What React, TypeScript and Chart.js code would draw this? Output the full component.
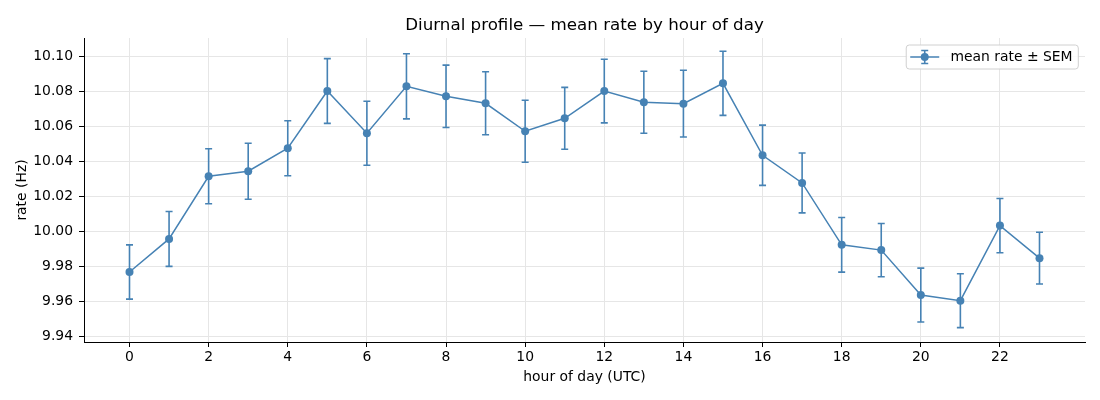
import React, { useEffect, useRef } from "react";
import { Chart, registerables } from "chart.js";
Chart.register(...registerables);

/** ---------- Data ---------- */
const HOURS = [0, 1, 2, 3, 4, 5, 6, 7, 8, 9, 10, 11, 12, 13, 14, 15, 16, 17, 18, 19, 20, 21, 22, 23];
const MEAN_RATE = [
  9.9766, 9.9955, 10.0313, 10.0342, 10.0473, 10.08, 10.0559, 10.0827, 10.077, 10.073, 10.057, 10.0644,
  10.08, 10.0736, 10.0728, 10.0844, 10.0433, 10.0275, 9.9921, 9.9891, 9.9634, 9.9602, 10.0031, 9.9845,
];
const SEM = [
  0.0155, 0.0157, 0.0157, 0.016, 0.0157, 0.0185, 0.0183, 0.0186, 0.0178, 0.018, 0.0177, 0.0177,
  0.0182, 0.0177, 0.0191, 0.0183, 0.0172, 0.0171, 0.0156, 0.0152, 0.0154, 0.0154, 0.0155, 0.0148,
];
const X_TICKS = [0, 2, 4, 6, 8, 10, 12, 14, 16, 18, 20, 22];
const Y_TICKS = [9.94, 9.96, 9.98, 10.0, 10.02, 10.04, 10.06, 10.08, 10.1];
const X_MIN = -1.15;
const X_MAX = 24.15;
const Y_MIN = 9.9366;
const Y_MAX = 10.1103;

const TITLE = "Diurnal profile — mean rate by hour of day";
const X_LABEL = "hour of day (UTC)";
const Y_LABEL = "rate (Hz)";
const SERIES_LABEL = "mean rate ± SEM";

/** ---------- Styles ---------- */
const FONT = "'DejaVu Sans', sans-serif";
const FONT_SIZE = 13.9;
const LINE_COLOR = "#4682b4";
const GRID_COLOR = "#e6e6e6";
const CAP = 3.5;

// error bars go under the line + markers
const errorBarPlugin = {
  id: "errorBars",
  beforeDatasetsDraw(chart: any) {
    const { ctx } = chart;
    const x = chart.scales.x;
    const y = chart.scales.y;
    ctx.save();
    ctx.strokeStyle = LINE_COLOR;
    ctx.lineWidth = 1.6;
    HOURS.forEach((h, i) => {
      const px = x.getPixelForValue(h);
      const top = y.getPixelForValue(MEAN_RATE[i] + SEM[i]);
      const bot = y.getPixelForValue(MEAN_RATE[i] - SEM[i]);
      ctx.beginPath();
      ctx.moveTo(px, top);
      ctx.lineTo(px, bot);
      ctx.moveTo(px - CAP, top);
      ctx.lineTo(px + CAP, top);
      ctx.moveTo(px - CAP, bot);
      ctx.lineTo(px + CAP, bot);
      ctx.stroke();
    });
    ctx.restore();
  },
};

// title centred over the plot area, like matplotlib
const titlePlugin = {
  id: "axesTitle",
  afterDraw(chart: any) {
    const { ctx, chartArea } = chart;
    ctx.save();
    ctx.font = `16.7px ${FONT}`;
    ctx.fillStyle = "#000";
    ctx.textAlign = "center";
    ctx.textBaseline = "alphabetic";
    ctx.fillText(TITLE, (chartArea.left + chartArea.right) / 2, chartArea.top - 8.5);
    ctx.restore();
  },
};

// legend box in the upper right corner with an errorbar handle
const legendPlugin = {
  id: "errLegend",
  afterDraw(chart: any) {
    const { ctx, chartArea } = chart;
    ctx.save();
    ctx.font = `${FONT_SIZE}px ${FONT}`;
    const textW = ctx.measureText(SERIES_LABEL).width;
    const w = textW + 50;
    const h = 24;
    const bx = chartArea.right - 6.7 - w;
    const by = chartArea.top + 7;
    ctx.beginPath();
    ctx.roundRect(bx, by, w, h, 3);
    ctx.fillStyle = "rgba(255,255,255,0.85)";
    ctx.fill();
    ctx.strokeStyle = "#d0d0d0";
    ctx.lineWidth = 1;
    ctx.stroke();

    const cy = by + h / 2;
    const hx0 = bx + 4;
    const hx1 = bx + 33;
    const mx = (hx0 + hx1) / 2;
    ctx.strokeStyle = LINE_COLOR;
    ctx.lineWidth = 1.5;
    ctx.beginPath();
    ctx.moveTo(hx0, cy);
    ctx.lineTo(hx1, cy);
    ctx.stroke();
    ctx.lineWidth = 1.6;
    ctx.beginPath();
    ctx.moveTo(mx, cy - 6.5);
    ctx.lineTo(mx, cy + 6.5);
    ctx.moveTo(mx - CAP, cy - 6.5);
    ctx.lineTo(mx + CAP, cy - 6.5);
    ctx.moveTo(mx - CAP, cy + 6.5);
    ctx.lineTo(mx + CAP, cy + 6.5);
    ctx.stroke();
    ctx.fillStyle = LINE_COLOR;
    ctx.beginPath();
    ctx.arc(mx, cy, 4, 0, Math.PI * 2);
    ctx.fill();

    ctx.fillStyle = "#000";
    ctx.textAlign = "left";
    ctx.textBaseline = "middle";
    ctx.fillText(SERIES_LABEL, bx + 44.3, cy + 0.5);
    ctx.restore();
  },
};

export default function App() {
  const canvasRef = useRef<HTMLCanvasElement | null>(null);

  useEffect(() => {
    document.body.style.margin = "0";
    const canvas = canvasRef.current;
    if (!canvas) return;

    const chart = new Chart(canvas, {
      type: "line",
      data: {
        datasets: [
          {
            label: SERIES_LABEL,
            data: HOURS.map((h, i) => ({ x: h, y: MEAN_RATE[i] })),
            borderColor: LINE_COLOR,
            backgroundColor: LINE_COLOR,
            borderWidth: 1.5,
            pointRadius: 4,
            pointBorderWidth: 0,
            pointBackgroundColor: LINE_COLOR,
            tension: 0,
            fill: false,
          },
        ],
      },
      options: {
        responsive: false,
        animation: false,
        layout: { padding: { top: 38, right: 15, left: 0, bottom: 0 } },
        plugins: {
          legend: { display: false },
          tooltip: { enabled: false },
          title: { display: false },
        },
        scales: {
          x: {
            type: "linear",
            min: X_MIN,
            max: X_MAX,
            afterBuildTicks: (s: any) => {
              s.ticks = X_TICKS.map((v) => ({ value: v }));
            },
            afterFit: (s: any) => {
              s.height = 58;
            },
            grid: { color: GRID_COLOR, lineWidth: 1, tickColor: "#000", tickLength: 5, tickWidth: 1 },
            border: { display: true, color: "#000", width: 1 },
            ticks: {
              color: "#000",
              padding: 2,
              maxRotation: 0,
              font: { family: FONT, size: FONT_SIZE },
              callback: (v: any) => String(v),
            },
            title: {
              display: true,
              text: X_LABEL,
              color: "#000",
              font: { family: FONT, size: FONT_SIZE },
              padding: { top: 0, bottom: 14.7 },
            },
          },
          y: {
            type: "linear",
            min: Y_MIN,
            max: Y_MAX,
            afterBuildTicks: (s: any) => {
              s.ticks = Y_TICKS.map((v) => ({ value: v }));
            },
            afterFit: (s: any) => {
              s.width = 84;
            },
            grid: { color: GRID_COLOR, lineWidth: 1, tickColor: "#000", tickLength: 5, tickWidth: 1 },
            border: { display: true, color: "#000", width: 1 },
            ticks: {
              color: "#000",
              padding: 6,
              font: { family: FONT, size: FONT_SIZE },
              callback: (v: any) => Number(v).toFixed(2),
            },
            title: {
              display: true,
              text: Y_LABEL,
              color: "#000",
              font: { family: FONT, size: FONT_SIZE },
              padding: { top: 14, bottom: 0 },
            },
          },
        },
      },
      plugins: [errorBarPlugin, titlePlugin, legendPlugin],
    });

    return () => {
      chart.destroy();
    };
  }, []);

  return (
    <div style={{ width: 1100, height: 400, background: "#fff" }}>
      <canvas ref={canvasRef} width={1100} height={400} />
    </div>
  );
}
